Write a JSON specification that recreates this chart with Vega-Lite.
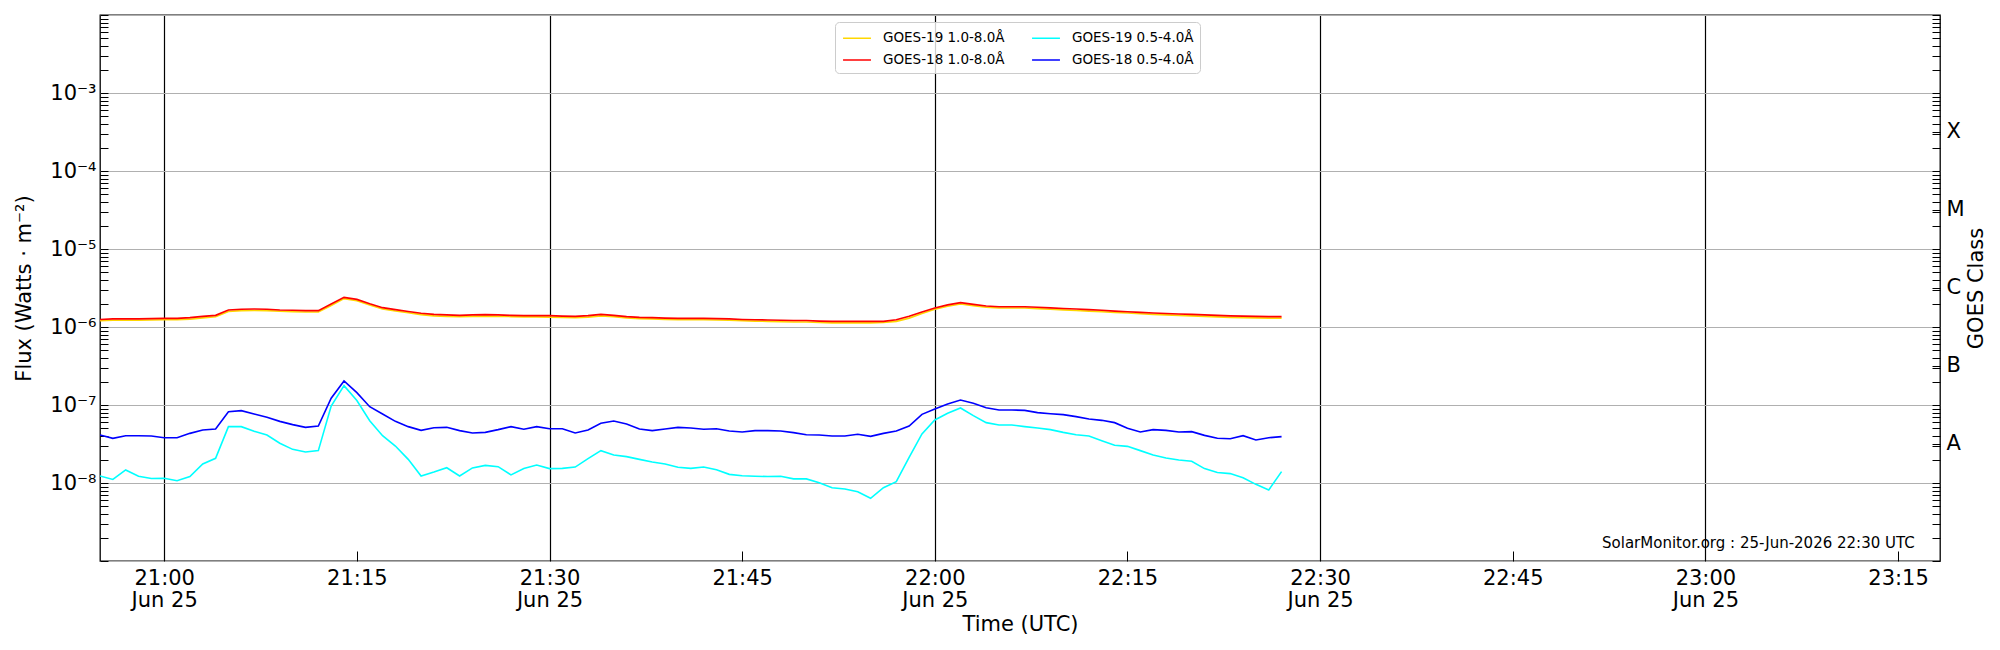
{
"$schema": "https://vega.github.io/schema/vega-lite/v6.json",
"width": 1840, "height": 546,
"autosize": {"type": "none"},
"padding": {"left": 100, "top": 15, "right": 60, "bottom": 89},
"background": "white",
"config": {
  "font": "DejaVu Sans",
  "view": {"stroke": "black", "strokeWidth": 1.3},
  "axis": {"labelFont": "DejaVu Sans", "titleFont": "DejaVu Sans", "labelColor": "black", "titleColor": "black", "titleFontWeight": "normal", "labelFontSize": 21, "titleFontSize": 21, "domain": false, "tickColor": "black", "tickWidth": 1}
},
"data": {"values": [
{"t":"2026-06-25T20:55:00Z","s":"GOES-19 1.0-8.0Å","f":1.20e-6},
{"t":"2026-06-25T20:56:00Z","s":"GOES-19 1.0-8.0Å","f":1.22e-6},
{"t":"2026-06-25T20:57:00Z","s":"GOES-19 1.0-8.0Å","f":1.22e-6},
{"t":"2026-06-25T20:58:00Z","s":"GOES-19 1.0-8.0Å","f":1.22e-6},
{"t":"2026-06-25T20:59:00Z","s":"GOES-19 1.0-8.0Å","f":1.23e-6},
{"t":"2026-06-25T21:00:00Z","s":"GOES-19 1.0-8.0Å","f":1.24e-6},
{"t":"2026-06-25T21:01:00Z","s":"GOES-19 1.0-8.0Å","f":1.24e-6},
{"t":"2026-06-25T21:02:00Z","s":"GOES-19 1.0-8.0Å","f":1.26e-6},
{"t":"2026-06-25T21:03:00Z","s":"GOES-19 1.0-8.0Å","f":1.31e-6},
{"t":"2026-06-25T21:04:00Z","s":"GOES-19 1.0-8.0Å","f":1.35e-6},
{"t":"2026-06-25T21:05:00Z","s":"GOES-19 1.0-8.0Å","f":1.58e-6},
{"t":"2026-06-25T21:06:00Z","s":"GOES-19 1.0-8.0Å","f":1.62e-6},
{"t":"2026-06-25T21:07:00Z","s":"GOES-19 1.0-8.0Å","f":1.63e-6},
{"t":"2026-06-25T21:08:00Z","s":"GOES-19 1.0-8.0Å","f":1.62e-6},
{"t":"2026-06-25T21:09:00Z","s":"GOES-19 1.0-8.0Å","f":1.59e-6},
{"t":"2026-06-25T21:10:00Z","s":"GOES-19 1.0-8.0Å","f":1.57e-6},
{"t":"2026-06-25T21:11:00Z","s":"GOES-19 1.0-8.0Å","f":1.56e-6},
{"t":"2026-06-25T21:12:00Z","s":"GOES-19 1.0-8.0Å","f":1.56e-6},
{"t":"2026-06-25T21:13:00Z","s":"GOES-19 1.0-8.0Å","f":1.89e-6},
{"t":"2026-06-25T21:14:00Z","s":"GOES-19 1.0-8.0Å","f":2.31e-6},
{"t":"2026-06-25T21:15:00Z","s":"GOES-19 1.0-8.0Å","f":2.17e-6},
{"t":"2026-06-25T21:16:00Z","s":"GOES-19 1.0-8.0Å","f":1.91e-6},
{"t":"2026-06-25T21:17:00Z","s":"GOES-19 1.0-8.0Å","f":1.70e-6},
{"t":"2026-06-25T21:18:00Z","s":"GOES-19 1.0-8.0Å","f":1.60e-6},
{"t":"2026-06-25T21:19:00Z","s":"GOES-19 1.0-8.0Å","f":1.52e-6},
{"t":"2026-06-25T21:20:00Z","s":"GOES-19 1.0-8.0Å","f":1.44e-6},
{"t":"2026-06-25T21:21:00Z","s":"GOES-19 1.0-8.0Å","f":1.39e-6},
{"t":"2026-06-25T21:22:00Z","s":"GOES-19 1.0-8.0Å","f":1.37e-6},
{"t":"2026-06-25T21:23:00Z","s":"GOES-19 1.0-8.0Å","f":1.36e-6},
{"t":"2026-06-25T21:24:00Z","s":"GOES-19 1.0-8.0Å","f":1.37e-6},
{"t":"2026-06-25T21:25:00Z","s":"GOES-19 1.0-8.0Å","f":1.38e-6},
{"t":"2026-06-25T21:26:00Z","s":"GOES-19 1.0-8.0Å","f":1.37e-6},
{"t":"2026-06-25T21:27:00Z","s":"GOES-19 1.0-8.0Å","f":1.36e-6},
{"t":"2026-06-25T21:28:00Z","s":"GOES-19 1.0-8.0Å","f":1.35e-6},
{"t":"2026-06-25T21:29:00Z","s":"GOES-19 1.0-8.0Å","f":1.35e-6},
{"t":"2026-06-25T21:30:00Z","s":"GOES-19 1.0-8.0Å","f":1.34e-6},
{"t":"2026-06-25T21:31:00Z","s":"GOES-19 1.0-8.0Å","f":1.33e-6},
{"t":"2026-06-25T21:32:00Z","s":"GOES-19 1.0-8.0Å","f":1.32e-6},
{"t":"2026-06-25T21:33:00Z","s":"GOES-19 1.0-8.0Å","f":1.34e-6},
{"t":"2026-06-25T21:34:00Z","s":"GOES-19 1.0-8.0Å","f":1.39e-6},
{"t":"2026-06-25T21:35:00Z","s":"GOES-19 1.0-8.0Å","f":1.36e-6},
{"t":"2026-06-25T21:36:00Z","s":"GOES-19 1.0-8.0Å","f":1.31e-6},
{"t":"2026-06-25T21:37:00Z","s":"GOES-19 1.0-8.0Å","f":1.28e-6},
{"t":"2026-06-25T21:38:00Z","s":"GOES-19 1.0-8.0Å","f":1.27e-6},
{"t":"2026-06-25T21:39:00Z","s":"GOES-19 1.0-8.0Å","f":1.25e-6},
{"t":"2026-06-25T21:40:00Z","s":"GOES-19 1.0-8.0Å","f":1.24e-6},
{"t":"2026-06-25T21:41:00Z","s":"GOES-19 1.0-8.0Å","f":1.24e-6},
{"t":"2026-06-25T21:42:00Z","s":"GOES-19 1.0-8.0Å","f":1.24e-6},
{"t":"2026-06-25T21:43:00Z","s":"GOES-19 1.0-8.0Å","f":1.23e-6},
{"t":"2026-06-25T21:44:00Z","s":"GOES-19 1.0-8.0Å","f":1.22e-6},
{"t":"2026-06-25T21:45:00Z","s":"GOES-19 1.0-8.0Å","f":1.20e-6},
{"t":"2026-06-25T21:46:00Z","s":"GOES-19 1.0-8.0Å","f":1.19e-6},
{"t":"2026-06-25T21:47:00Z","s":"GOES-19 1.0-8.0Å","f":1.18e-6},
{"t":"2026-06-25T21:48:00Z","s":"GOES-19 1.0-8.0Å","f":1.17e-6},
{"t":"2026-06-25T21:49:00Z","s":"GOES-19 1.0-8.0Å","f":1.16e-6},
{"t":"2026-06-25T21:50:00Z","s":"GOES-19 1.0-8.0Å","f":1.16e-6},
{"t":"2026-06-25T21:51:00Z","s":"GOES-19 1.0-8.0Å","f":1.14e-6},
{"t":"2026-06-25T21:52:00Z","s":"GOES-19 1.0-8.0Å","f":1.13e-6},
{"t":"2026-06-25T21:53:00Z","s":"GOES-19 1.0-8.0Å","f":1.13e-6},
{"t":"2026-06-25T21:54:00Z","s":"GOES-19 1.0-8.0Å","f":1.13e-6},
{"t":"2026-06-25T21:55:00Z","s":"GOES-19 1.0-8.0Å","f":1.13e-6},
{"t":"2026-06-25T21:56:00Z","s":"GOES-19 1.0-8.0Å","f":1.14e-6},
{"t":"2026-06-25T21:57:00Z","s":"GOES-19 1.0-8.0Å","f":1.18e-6},
{"t":"2026-06-25T21:58:00Z","s":"GOES-19 1.0-8.0Å","f":1.30e-6},
{"t":"2026-06-25T21:59:00Z","s":"GOES-19 1.0-8.0Å","f":1.49e-6},
{"t":"2026-06-25T22:00:00Z","s":"GOES-19 1.0-8.0Å","f":1.69e-6},
{"t":"2026-06-25T22:01:00Z","s":"GOES-19 1.0-8.0Å","f":1.85e-6},
{"t":"2026-06-25T22:02:00Z","s":"GOES-19 1.0-8.0Å","f":1.97e-6},
{"t":"2026-06-25T22:03:00Z","s":"GOES-19 1.0-8.0Å","f":1.88e-6},
{"t":"2026-06-25T22:04:00Z","s":"GOES-19 1.0-8.0Å","f":1.79e-6},
{"t":"2026-06-25T22:05:00Z","s":"GOES-19 1.0-8.0Å","f":1.75e-6},
{"t":"2026-06-25T22:06:00Z","s":"GOES-19 1.0-8.0Å","f":1.75e-6},
{"t":"2026-06-25T22:07:00Z","s":"GOES-19 1.0-8.0Å","f":1.75e-6},
{"t":"2026-06-25T22:08:00Z","s":"GOES-19 1.0-8.0Å","f":1.72e-6},
{"t":"2026-06-25T22:09:00Z","s":"GOES-19 1.0-8.0Å","f":1.69e-6},
{"t":"2026-06-25T22:10:00Z","s":"GOES-19 1.0-8.0Å","f":1.66e-6},
{"t":"2026-06-25T22:11:00Z","s":"GOES-19 1.0-8.0Å","f":1.63e-6},
{"t":"2026-06-25T22:12:00Z","s":"GOES-19 1.0-8.0Å","f":1.60e-6},
{"t":"2026-06-25T22:13:00Z","s":"GOES-19 1.0-8.0Å","f":1.57e-6},
{"t":"2026-06-25T22:14:00Z","s":"GOES-19 1.0-8.0Å","f":1.54e-6},
{"t":"2026-06-25T22:15:00Z","s":"GOES-19 1.0-8.0Å","f":1.51e-6},
{"t":"2026-06-25T22:16:00Z","s":"GOES-19 1.0-8.0Å","f":1.48e-6},
{"t":"2026-06-25T22:17:00Z","s":"GOES-19 1.0-8.0Å","f":1.45e-6},
{"t":"2026-06-25T22:18:00Z","s":"GOES-19 1.0-8.0Å","f":1.43e-6},
{"t":"2026-06-25T22:19:00Z","s":"GOES-19 1.0-8.0Å","f":1.41e-6},
{"t":"2026-06-25T22:20:00Z","s":"GOES-19 1.0-8.0Å","f":1.39e-6},
{"t":"2026-06-25T22:21:00Z","s":"GOES-19 1.0-8.0Å","f":1.37e-6},
{"t":"2026-06-25T22:22:00Z","s":"GOES-19 1.0-8.0Å","f":1.35e-6},
{"t":"2026-06-25T22:23:00Z","s":"GOES-19 1.0-8.0Å","f":1.33e-6},
{"t":"2026-06-25T22:24:00Z","s":"GOES-19 1.0-8.0Å","f":1.32e-6},
{"t":"2026-06-25T22:25:00Z","s":"GOES-19 1.0-8.0Å","f":1.31e-6},
{"t":"2026-06-25T22:26:00Z","s":"GOES-19 1.0-8.0Å","f":1.30e-6},
{"t":"2026-06-25T22:27:00Z","s":"GOES-19 1.0-8.0Å","f":1.30e-6},
{"t":"2026-06-25T20:55:00Z","s":"GOES-18 1.0-8.0Å","f":1.25e-6},
{"t":"2026-06-25T20:56:00Z","s":"GOES-18 1.0-8.0Å","f":1.27e-6},
{"t":"2026-06-25T20:57:00Z","s":"GOES-18 1.0-8.0Å","f":1.27e-6},
{"t":"2026-06-25T20:58:00Z","s":"GOES-18 1.0-8.0Å","f":1.27e-6},
{"t":"2026-06-25T20:59:00Z","s":"GOES-18 1.0-8.0Å","f":1.28e-6},
{"t":"2026-06-25T21:00:00Z","s":"GOES-18 1.0-8.0Å","f":1.29e-6},
{"t":"2026-06-25T21:01:00Z","s":"GOES-18 1.0-8.0Å","f":1.29e-6},
{"t":"2026-06-25T21:02:00Z","s":"GOES-18 1.0-8.0Å","f":1.32e-6},
{"t":"2026-06-25T21:03:00Z","s":"GOES-18 1.0-8.0Å","f":1.37e-6},
{"t":"2026-06-25T21:04:00Z","s":"GOES-18 1.0-8.0Å","f":1.41e-6},
{"t":"2026-06-25T21:05:00Z","s":"GOES-18 1.0-8.0Å","f":1.65e-6},
{"t":"2026-06-25T21:06:00Z","s":"GOES-18 1.0-8.0Å","f":1.69e-6},
{"t":"2026-06-25T21:07:00Z","s":"GOES-18 1.0-8.0Å","f":1.70e-6},
{"t":"2026-06-25T21:08:00Z","s":"GOES-18 1.0-8.0Å","f":1.69e-6},
{"t":"2026-06-25T21:09:00Z","s":"GOES-18 1.0-8.0Å","f":1.65e-6},
{"t":"2026-06-25T21:10:00Z","s":"GOES-18 1.0-8.0Å","f":1.64e-6},
{"t":"2026-06-25T21:11:00Z","s":"GOES-18 1.0-8.0Å","f":1.62e-6},
{"t":"2026-06-25T21:12:00Z","s":"GOES-18 1.0-8.0Å","f":1.62e-6},
{"t":"2026-06-25T21:13:00Z","s":"GOES-18 1.0-8.0Å","f":1.97e-6},
{"t":"2026-06-25T21:14:00Z","s":"GOES-18 1.0-8.0Å","f":2.40e-6},
{"t":"2026-06-25T21:15:00Z","s":"GOES-18 1.0-8.0Å","f":2.26e-6},
{"t":"2026-06-25T21:16:00Z","s":"GOES-18 1.0-8.0Å","f":1.99e-6},
{"t":"2026-06-25T21:17:00Z","s":"GOES-18 1.0-8.0Å","f":1.77e-6},
{"t":"2026-06-25T21:18:00Z","s":"GOES-18 1.0-8.0Å","f":1.67e-6},
{"t":"2026-06-25T21:19:00Z","s":"GOES-18 1.0-8.0Å","f":1.58e-6},
{"t":"2026-06-25T21:20:00Z","s":"GOES-18 1.0-8.0Å","f":1.50e-6},
{"t":"2026-06-25T21:21:00Z","s":"GOES-18 1.0-8.0Å","f":1.45e-6},
{"t":"2026-06-25T21:22:00Z","s":"GOES-18 1.0-8.0Å","f":1.43e-6},
{"t":"2026-06-25T21:23:00Z","s":"GOES-18 1.0-8.0Å","f":1.41e-6},
{"t":"2026-06-25T21:24:00Z","s":"GOES-18 1.0-8.0Å","f":1.43e-6},
{"t":"2026-06-25T21:25:00Z","s":"GOES-18 1.0-8.0Å","f":1.44e-6},
{"t":"2026-06-25T21:26:00Z","s":"GOES-18 1.0-8.0Å","f":1.43e-6},
{"t":"2026-06-25T21:27:00Z","s":"GOES-18 1.0-8.0Å","f":1.41e-6},
{"t":"2026-06-25T21:28:00Z","s":"GOES-18 1.0-8.0Å","f":1.40e-6},
{"t":"2026-06-25T21:29:00Z","s":"GOES-18 1.0-8.0Å","f":1.40e-6},
{"t":"2026-06-25T21:30:00Z","s":"GOES-18 1.0-8.0Å","f":1.40e-6},
{"t":"2026-06-25T21:31:00Z","s":"GOES-18 1.0-8.0Å","f":1.38e-6},
{"t":"2026-06-25T21:32:00Z","s":"GOES-18 1.0-8.0Å","f":1.37e-6},
{"t":"2026-06-25T21:33:00Z","s":"GOES-18 1.0-8.0Å","f":1.40e-6},
{"t":"2026-06-25T21:34:00Z","s":"GOES-18 1.0-8.0Å","f":1.45e-6},
{"t":"2026-06-25T21:35:00Z","s":"GOES-18 1.0-8.0Å","f":1.41e-6},
{"t":"2026-06-25T21:36:00Z","s":"GOES-18 1.0-8.0Å","f":1.36e-6},
{"t":"2026-06-25T21:37:00Z","s":"GOES-18 1.0-8.0Å","f":1.33e-6},
{"t":"2026-06-25T21:38:00Z","s":"GOES-18 1.0-8.0Å","f":1.32e-6},
{"t":"2026-06-25T21:39:00Z","s":"GOES-18 1.0-8.0Å","f":1.30e-6},
{"t":"2026-06-25T21:40:00Z","s":"GOES-18 1.0-8.0Å","f":1.29e-6},
{"t":"2026-06-25T21:41:00Z","s":"GOES-18 1.0-8.0Å","f":1.29e-6},
{"t":"2026-06-25T21:42:00Z","s":"GOES-18 1.0-8.0Å","f":1.29e-6},
{"t":"2026-06-25T21:43:00Z","s":"GOES-18 1.0-8.0Å","f":1.28e-6},
{"t":"2026-06-25T21:44:00Z","s":"GOES-18 1.0-8.0Å","f":1.27e-6},
{"t":"2026-06-25T21:45:00Z","s":"GOES-18 1.0-8.0Å","f":1.25e-6},
{"t":"2026-06-25T21:46:00Z","s":"GOES-18 1.0-8.0Å","f":1.24e-6},
{"t":"2026-06-25T21:47:00Z","s":"GOES-18 1.0-8.0Å","f":1.23e-6},
{"t":"2026-06-25T21:48:00Z","s":"GOES-18 1.0-8.0Å","f":1.22e-6},
{"t":"2026-06-25T21:49:00Z","s":"GOES-18 1.0-8.0Å","f":1.21e-6},
{"t":"2026-06-25T21:50:00Z","s":"GOES-18 1.0-8.0Å","f":1.21e-6},
{"t":"2026-06-25T21:51:00Z","s":"GOES-18 1.0-8.0Å","f":1.19e-6},
{"t":"2026-06-25T21:52:00Z","s":"GOES-18 1.0-8.0Å","f":1.18e-6},
{"t":"2026-06-25T21:53:00Z","s":"GOES-18 1.0-8.0Å","f":1.18e-6},
{"t":"2026-06-25T21:54:00Z","s":"GOES-18 1.0-8.0Å","f":1.18e-6},
{"t":"2026-06-25T21:55:00Z","s":"GOES-18 1.0-8.0Å","f":1.18e-6},
{"t":"2026-06-25T21:56:00Z","s":"GOES-18 1.0-8.0Å","f":1.18e-6},
{"t":"2026-06-25T21:57:00Z","s":"GOES-18 1.0-8.0Å","f":1.24e-6},
{"t":"2026-06-25T21:58:00Z","s":"GOES-18 1.0-8.0Å","f":1.37e-6},
{"t":"2026-06-25T21:59:00Z","s":"GOES-18 1.0-8.0Å","f":1.56e-6},
{"t":"2026-06-25T22:00:00Z","s":"GOES-18 1.0-8.0Å","f":1.75e-6},
{"t":"2026-06-25T22:01:00Z","s":"GOES-18 1.0-8.0Å","f":1.92e-6},
{"t":"2026-06-25T22:02:00Z","s":"GOES-18 1.0-8.0Å","f":2.05e-6},
{"t":"2026-06-25T22:03:00Z","s":"GOES-18 1.0-8.0Å","f":1.95e-6},
{"t":"2026-06-25T22:04:00Z","s":"GOES-18 1.0-8.0Å","f":1.86e-6},
{"t":"2026-06-25T22:05:00Z","s":"GOES-18 1.0-8.0Å","f":1.82e-6},
{"t":"2026-06-25T22:06:00Z","s":"GOES-18 1.0-8.0Å","f":1.82e-6},
{"t":"2026-06-25T22:07:00Z","s":"GOES-18 1.0-8.0Å","f":1.82e-6},
{"t":"2026-06-25T22:08:00Z","s":"GOES-18 1.0-8.0Å","f":1.79e-6},
{"t":"2026-06-25T22:09:00Z","s":"GOES-18 1.0-8.0Å","f":1.76e-6},
{"t":"2026-06-25T22:10:00Z","s":"GOES-18 1.0-8.0Å","f":1.73e-6},
{"t":"2026-06-25T22:11:00Z","s":"GOES-18 1.0-8.0Å","f":1.70e-6},
{"t":"2026-06-25T22:12:00Z","s":"GOES-18 1.0-8.0Å","f":1.67e-6},
{"t":"2026-06-25T22:13:00Z","s":"GOES-18 1.0-8.0Å","f":1.64e-6},
{"t":"2026-06-25T22:14:00Z","s":"GOES-18 1.0-8.0Å","f":1.60e-6},
{"t":"2026-06-25T22:15:00Z","s":"GOES-18 1.0-8.0Å","f":1.57e-6},
{"t":"2026-06-25T22:16:00Z","s":"GOES-18 1.0-8.0Å","f":1.54e-6},
{"t":"2026-06-25T22:17:00Z","s":"GOES-18 1.0-8.0Å","f":1.51e-6},
{"t":"2026-06-25T22:18:00Z","s":"GOES-18 1.0-8.0Å","f":1.49e-6},
{"t":"2026-06-25T22:19:00Z","s":"GOES-18 1.0-8.0Å","f":1.47e-6},
{"t":"2026-06-25T22:20:00Z","s":"GOES-18 1.0-8.0Å","f":1.45e-6},
{"t":"2026-06-25T22:21:00Z","s":"GOES-18 1.0-8.0Å","f":1.43e-6},
{"t":"2026-06-25T22:22:00Z","s":"GOES-18 1.0-8.0Å","f":1.41e-6},
{"t":"2026-06-25T22:23:00Z","s":"GOES-18 1.0-8.0Å","f":1.39e-6},
{"t":"2026-06-25T22:24:00Z","s":"GOES-18 1.0-8.0Å","f":1.38e-6},
{"t":"2026-06-25T22:25:00Z","s":"GOES-18 1.0-8.0Å","f":1.37e-6},
{"t":"2026-06-25T22:26:00Z","s":"GOES-18 1.0-8.0Å","f":1.36e-6},
{"t":"2026-06-25T22:27:00Z","s":"GOES-18 1.0-8.0Å","f":1.36e-6},
{"t":"2026-06-25T20:55:00Z","s":"GOES-19 0.5-4.0Å","f":1.23e-8},
{"t":"2026-06-25T20:56:00Z","s":"GOES-19 0.5-4.0Å","f":1.11e-8},
{"t":"2026-06-25T20:57:00Z","s":"GOES-19 0.5-4.0Å","f":1.47e-8},
{"t":"2026-06-25T20:58:00Z","s":"GOES-19 0.5-4.0Å","f":1.22e-8},
{"t":"2026-06-25T20:59:00Z","s":"GOES-19 0.5-4.0Å","f":1.14e-8},
{"t":"2026-06-25T21:00:00Z","s":"GOES-19 0.5-4.0Å","f":1.15e-8},
{"t":"2026-06-25T21:01:00Z","s":"GOES-19 0.5-4.0Å","f":1.07e-8},
{"t":"2026-06-25T21:02:00Z","s":"GOES-19 0.5-4.0Å","f":1.21e-8},
{"t":"2026-06-25T21:03:00Z","s":"GOES-19 0.5-4.0Å","f":1.75e-8},
{"t":"2026-06-25T21:04:00Z","s":"GOES-19 0.5-4.0Å","f":2.07e-8},
{"t":"2026-06-25T21:05:00Z","s":"GOES-19 0.5-4.0Å","f":5.28e-8},
{"t":"2026-06-25T21:06:00Z","s":"GOES-19 0.5-4.0Å","f":5.28e-8},
{"t":"2026-06-25T21:07:00Z","s":"GOES-19 0.5-4.0Å","f":4.60e-8},
{"t":"2026-06-25T21:08:00Z","s":"GOES-19 0.5-4.0Å","f":4.12e-8},
{"t":"2026-06-25T21:09:00Z","s":"GOES-19 0.5-4.0Å","f":3.23e-8},
{"t":"2026-06-25T21:10:00Z","s":"GOES-19 0.5-4.0Å","f":2.70e-8},
{"t":"2026-06-25T21:11:00Z","s":"GOES-19 0.5-4.0Å","f":2.50e-8},
{"t":"2026-06-25T21:12:00Z","s":"GOES-19 0.5-4.0Å","f":2.60e-8},
{"t":"2026-06-25T21:13:00Z","s":"GOES-19 0.5-4.0Å","f":9.71e-8},
{"t":"2026-06-25T21:14:00Z","s":"GOES-19 0.5-4.0Å","f":1.77e-7},
{"t":"2026-06-25T21:15:00Z","s":"GOES-19 0.5-4.0Å","f":1.14e-7},
{"t":"2026-06-25T21:16:00Z","s":"GOES-19 0.5-4.0Å","f":6.30e-8},
{"t":"2026-06-25T21:17:00Z","s":"GOES-19 0.5-4.0Å","f":4.04e-8},
{"t":"2026-06-25T21:18:00Z","s":"GOES-19 0.5-4.0Å","f":2.98e-8},
{"t":"2026-06-25T21:19:00Z","s":"GOES-19 0.5-4.0Å","f":2.01e-8},
{"t":"2026-06-25T21:20:00Z","s":"GOES-19 0.5-4.0Å","f":1.23e-8},
{"t":"2026-06-25T21:21:00Z","s":"GOES-19 0.5-4.0Å","f":1.38e-8},
{"t":"2026-06-25T21:22:00Z","s":"GOES-19 0.5-4.0Å","f":1.57e-8},
{"t":"2026-06-25T21:23:00Z","s":"GOES-19 0.5-4.0Å","f":1.23e-8},
{"t":"2026-06-25T21:24:00Z","s":"GOES-19 0.5-4.0Å","f":1.56e-8},
{"t":"2026-06-25T21:25:00Z","s":"GOES-19 0.5-4.0Å","f":1.68e-8},
{"t":"2026-06-25T21:26:00Z","s":"GOES-19 0.5-4.0Å","f":1.62e-8},
{"t":"2026-06-25T21:27:00Z","s":"GOES-19 0.5-4.0Å","f":1.27e-8},
{"t":"2026-06-25T21:28:00Z","s":"GOES-19 0.5-4.0Å","f":1.53e-8},
{"t":"2026-06-25T21:29:00Z","s":"GOES-19 0.5-4.0Å","f":1.70e-8},
{"t":"2026-06-25T21:30:00Z","s":"GOES-19 0.5-4.0Å","f":1.53e-8},
{"t":"2026-06-25T21:31:00Z","s":"GOES-19 0.5-4.0Å","f":1.54e-8},
{"t":"2026-06-25T21:32:00Z","s":"GOES-19 0.5-4.0Å","f":1.60e-8},
{"t":"2026-06-25T21:33:00Z","s":"GOES-19 0.5-4.0Å","f":2.05e-8},
{"t":"2026-06-25T21:34:00Z","s":"GOES-19 0.5-4.0Å","f":2.60e-8},
{"t":"2026-06-25T21:35:00Z","s":"GOES-19 0.5-4.0Å","f":2.29e-8},
{"t":"2026-06-25T21:36:00Z","s":"GOES-19 0.5-4.0Å","f":2.18e-8},
{"t":"2026-06-25T21:37:00Z","s":"GOES-19 0.5-4.0Å","f":2.01e-8},
{"t":"2026-06-25T21:38:00Z","s":"GOES-19 0.5-4.0Å","f":1.86e-8},
{"t":"2026-06-25T21:39:00Z","s":"GOES-19 0.5-4.0Å","f":1.75e-8},
{"t":"2026-06-25T21:40:00Z","s":"GOES-19 0.5-4.0Å","f":1.59e-8},
{"t":"2026-06-25T21:41:00Z","s":"GOES-19 0.5-4.0Å","f":1.54e-8},
{"t":"2026-06-25T21:42:00Z","s":"GOES-19 0.5-4.0Å","f":1.60e-8},
{"t":"2026-06-25T21:43:00Z","s":"GOES-19 0.5-4.0Å","f":1.48e-8},
{"t":"2026-06-25T21:44:00Z","s":"GOES-19 0.5-4.0Å","f":1.29e-8},
{"t":"2026-06-25T21:45:00Z","s":"GOES-19 0.5-4.0Å","f":1.24e-8},
{"t":"2026-06-25T21:46:00Z","s":"GOES-19 0.5-4.0Å","f":1.22e-8},
{"t":"2026-06-25T21:47:00Z","s":"GOES-19 0.5-4.0Å","f":1.21e-8},
{"t":"2026-06-25T21:48:00Z","s":"GOES-19 0.5-4.0Å","f":1.22e-8},
{"t":"2026-06-25T21:49:00Z","s":"GOES-19 0.5-4.0Å","f":1.13e-8},
{"t":"2026-06-25T21:50:00Z","s":"GOES-19 0.5-4.0Å","f":1.13e-8},
{"t":"2026-06-25T21:51:00Z","s":"GOES-19 0.5-4.0Å","f":1.01e-8},
{"t":"2026-06-25T21:52:00Z","s":"GOES-19 0.5-4.0Å","f":8.71e-9},
{"t":"2026-06-25T21:53:00Z","s":"GOES-19 0.5-4.0Å","f":8.38e-9},
{"t":"2026-06-25T21:54:00Z","s":"GOES-19 0.5-4.0Å","f":7.74e-9},
{"t":"2026-06-25T21:55:00Z","s":"GOES-19 0.5-4.0Å","f":6.36e-9},
{"t":"2026-06-25T21:56:00Z","s":"GOES-19 0.5-4.0Å","f":8.71e-9},
{"t":"2026-06-25T21:57:00Z","s":"GOES-19 0.5-4.0Å","f":1.04e-8},
{"t":"2026-06-25T21:58:00Z","s":"GOES-19 0.5-4.0Å","f":2.13e-8},
{"t":"2026-06-25T21:59:00Z","s":"GOES-19 0.5-4.0Å","f":4.25e-8},
{"t":"2026-06-25T22:00:00Z","s":"GOES-19 0.5-4.0Å","f":6.42e-8},
{"t":"2026-06-25T22:01:00Z","s":"GOES-19 0.5-4.0Å","f":7.82e-8},
{"t":"2026-06-25T22:02:00Z","s":"GOES-19 0.5-4.0Å","f":9.15e-8},
{"t":"2026-06-25T22:03:00Z","s":"GOES-19 0.5-4.0Å","f":7.30e-8},
{"t":"2026-06-25T22:04:00Z","s":"GOES-19 0.5-4.0Å","f":5.94e-8},
{"t":"2026-06-25T22:05:00Z","s":"GOES-19 0.5-4.0Å","f":5.54e-8},
{"t":"2026-06-25T22:06:00Z","s":"GOES-19 0.5-4.0Å","f":5.54e-8},
{"t":"2026-06-25T22:07:00Z","s":"GOES-19 0.5-4.0Å","f":5.28e-8},
{"t":"2026-06-25T22:08:00Z","s":"GOES-19 0.5-4.0Å","f":5.07e-8},
{"t":"2026-06-25T22:09:00Z","s":"GOES-19 0.5-4.0Å","f":4.83e-8},
{"t":"2026-06-25T22:10:00Z","s":"GOES-19 0.5-4.0Å","f":4.46e-8},
{"t":"2026-06-25T22:11:00Z","s":"GOES-19 0.5-4.0Å","f":4.16e-8},
{"t":"2026-06-25T22:12:00Z","s":"GOES-19 0.5-4.0Å","f":4.00e-8},
{"t":"2026-06-25T22:13:00Z","s":"GOES-19 0.5-4.0Å","f":3.49e-8},
{"t":"2026-06-25T22:14:00Z","s":"GOES-19 0.5-4.0Å","f":3.04e-8},
{"t":"2026-06-25T22:15:00Z","s":"GOES-19 0.5-4.0Å","f":2.95e-8},
{"t":"2026-06-25T22:16:00Z","s":"GOES-19 0.5-4.0Å","f":2.60e-8},
{"t":"2026-06-25T22:17:00Z","s":"GOES-19 0.5-4.0Å","f":2.29e-8},
{"t":"2026-06-25T22:18:00Z","s":"GOES-19 0.5-4.0Å","f":2.09e-8},
{"t":"2026-06-25T22:19:00Z","s":"GOES-19 0.5-4.0Å","f":1.97e-8},
{"t":"2026-06-25T22:20:00Z","s":"GOES-19 0.5-4.0Å","f":1.90e-8},
{"t":"2026-06-25T22:21:00Z","s":"GOES-19 0.5-4.0Å","f":1.53e-8},
{"t":"2026-06-25T22:22:00Z","s":"GOES-19 0.5-4.0Å","f":1.36e-8},
{"t":"2026-06-25T22:23:00Z","s":"GOES-19 0.5-4.0Å","f":1.32e-8},
{"t":"2026-06-25T22:24:00Z","s":"GOES-19 0.5-4.0Å","f":1.17e-8},
{"t":"2026-06-25T22:25:00Z","s":"GOES-19 0.5-4.0Å","f":9.61e-9},
{"t":"2026-06-25T22:26:00Z","s":"GOES-19 0.5-4.0Å","f":8.13e-9},
{"t":"2026-06-25T22:27:00Z","s":"GOES-19 0.5-4.0Å","f":1.40e-8},
{"t":"2026-06-25T20:55:00Z","s":"GOES-18 0.5-4.0Å","f":4.12e-8},
{"t":"2026-06-25T20:56:00Z","s":"GOES-18 0.5-4.0Å","f":3.74e-8},
{"t":"2026-06-25T20:57:00Z","s":"GOES-18 0.5-4.0Å","f":4.04e-8},
{"t":"2026-06-25T20:58:00Z","s":"GOES-18 0.5-4.0Å","f":4.04e-8},
{"t":"2026-06-25T20:59:00Z","s":"GOES-18 0.5-4.0Å","f":4.00e-8},
{"t":"2026-06-25T21:00:00Z","s":"GOES-18 0.5-4.0Å","f":3.81e-8},
{"t":"2026-06-25T21:01:00Z","s":"GOES-18 0.5-4.0Å","f":3.81e-8},
{"t":"2026-06-25T21:02:00Z","s":"GOES-18 0.5-4.0Å","f":4.33e-8},
{"t":"2026-06-25T21:03:00Z","s":"GOES-18 0.5-4.0Å","f":4.78e-8},
{"t":"2026-06-25T21:04:00Z","s":"GOES-18 0.5-4.0Å","f":4.92e-8},
{"t":"2026-06-25T21:05:00Z","s":"GOES-18 0.5-4.0Å","f":8.21e-8},
{"t":"2026-06-25T21:06:00Z","s":"GOES-18 0.5-4.0Å","f":8.46e-8},
{"t":"2026-06-25T21:07:00Z","s":"GOES-18 0.5-4.0Å","f":7.67e-8},
{"t":"2026-06-25T21:08:00Z","s":"GOES-18 0.5-4.0Å","f":6.95e-8},
{"t":"2026-06-25T21:09:00Z","s":"GOES-18 0.5-4.0Å","f":6.17e-8},
{"t":"2026-06-25T21:10:00Z","s":"GOES-18 0.5-4.0Å","f":5.60e-8},
{"t":"2026-06-25T21:11:00Z","s":"GOES-18 0.5-4.0Å","f":5.17e-8},
{"t":"2026-06-25T21:12:00Z","s":"GOES-18 0.5-4.0Å","f":5.38e-8},
{"t":"2026-06-25T21:13:00Z","s":"GOES-18 0.5-4.0Å","f":1.22e-7},
{"t":"2026-06-25T21:14:00Z","s":"GOES-18 0.5-4.0Å","f":2.03e-7},
{"t":"2026-06-25T21:15:00Z","s":"GOES-18 0.5-4.0Å","f":1.44e-7},
{"t":"2026-06-25T21:16:00Z","s":"GOES-18 0.5-4.0Å","f":9.52e-8},
{"t":"2026-06-25T21:17:00Z","s":"GOES-18 0.5-4.0Å","f":7.67e-8},
{"t":"2026-06-25T21:18:00Z","s":"GOES-18 0.5-4.0Å","f":6.17e-8},
{"t":"2026-06-25T21:19:00Z","s":"GOES-18 0.5-4.0Å","f":5.28e-8},
{"t":"2026-06-25T21:20:00Z","s":"GOES-18 0.5-4.0Å","f":4.73e-8},
{"t":"2026-06-25T21:21:00Z","s":"GOES-18 0.5-4.0Å","f":5.12e-8},
{"t":"2026-06-25T21:22:00Z","s":"GOES-18 0.5-4.0Å","f":5.17e-8},
{"t":"2026-06-25T21:23:00Z","s":"GOES-18 0.5-4.0Å","f":4.69e-8},
{"t":"2026-06-25T21:24:00Z","s":"GOES-18 0.5-4.0Å","f":4.38e-8},
{"t":"2026-06-25T21:25:00Z","s":"GOES-18 0.5-4.0Å","f":4.46e-8},
{"t":"2026-06-25T21:26:00Z","s":"GOES-18 0.5-4.0Å","f":4.83e-8},
{"t":"2026-06-25T21:27:00Z","s":"GOES-18 0.5-4.0Å","f":5.28e-8},
{"t":"2026-06-25T21:28:00Z","s":"GOES-18 0.5-4.0Å","f":4.88e-8},
{"t":"2026-06-25T21:29:00Z","s":"GOES-18 0.5-4.0Å","f":5.28e-8},
{"t":"2026-06-25T21:30:00Z","s":"GOES-18 0.5-4.0Å","f":4.97e-8},
{"t":"2026-06-25T21:31:00Z","s":"GOES-18 0.5-4.0Å","f":4.97e-8},
{"t":"2026-06-25T21:32:00Z","s":"GOES-18 0.5-4.0Å","f":4.38e-8},
{"t":"2026-06-25T21:33:00Z","s":"GOES-18 0.5-4.0Å","f":4.78e-8},
{"t":"2026-06-25T21:34:00Z","s":"GOES-18 0.5-4.0Å","f":5.82e-8},
{"t":"2026-06-25T21:35:00Z","s":"GOES-18 0.5-4.0Å","f":6.23e-8},
{"t":"2026-06-25T21:36:00Z","s":"GOES-18 0.5-4.0Å","f":5.71e-8},
{"t":"2026-06-25T21:37:00Z","s":"GOES-18 0.5-4.0Å","f":4.92e-8},
{"t":"2026-06-25T21:38:00Z","s":"GOES-18 0.5-4.0Å","f":4.69e-8},
{"t":"2026-06-25T21:39:00Z","s":"GOES-18 0.5-4.0Å","f":4.92e-8},
{"t":"2026-06-25T21:40:00Z","s":"GOES-18 0.5-4.0Å","f":5.17e-8},
{"t":"2026-06-25T21:41:00Z","s":"GOES-18 0.5-4.0Å","f":5.07e-8},
{"t":"2026-06-25T21:42:00Z","s":"GOES-18 0.5-4.0Å","f":4.88e-8},
{"t":"2026-06-25T21:43:00Z","s":"GOES-18 0.5-4.0Å","f":4.97e-8},
{"t":"2026-06-25T21:44:00Z","s":"GOES-18 0.5-4.0Å","f":4.64e-8},
{"t":"2026-06-25T21:45:00Z","s":"GOES-18 0.5-4.0Å","f":4.51e-8},
{"t":"2026-06-25T21:46:00Z","s":"GOES-18 0.5-4.0Å","f":4.69e-8},
{"t":"2026-06-25T21:47:00Z","s":"GOES-18 0.5-4.0Å","f":4.69e-8},
{"t":"2026-06-25T21:48:00Z","s":"GOES-18 0.5-4.0Å","f":4.64e-8},
{"t":"2026-06-25T21:49:00Z","s":"GOES-18 0.5-4.0Å","f":4.42e-8},
{"t":"2026-06-25T21:50:00Z","s":"GOES-18 0.5-4.0Å","f":4.16e-8},
{"t":"2026-06-25T21:51:00Z","s":"GOES-18 0.5-4.0Å","f":4.12e-8},
{"t":"2026-06-25T21:52:00Z","s":"GOES-18 0.5-4.0Å","f":4.00e-8},
{"t":"2026-06-25T21:53:00Z","s":"GOES-18 0.5-4.0Å","f":4.00e-8},
{"t":"2026-06-25T21:54:00Z","s":"GOES-18 0.5-4.0Å","f":4.21e-8},
{"t":"2026-06-25T21:55:00Z","s":"GOES-18 0.5-4.0Å","f":3.96e-8},
{"t":"2026-06-25T21:56:00Z","s":"GOES-18 0.5-4.0Å","f":4.33e-8},
{"t":"2026-06-25T21:57:00Z","s":"GOES-18 0.5-4.0Å","f":4.64e-8},
{"t":"2026-06-25T21:58:00Z","s":"GOES-18 0.5-4.0Å","f":5.38e-8},
{"t":"2026-06-25T21:59:00Z","s":"GOES-18 0.5-4.0Å","f":7.59e-8},
{"t":"2026-06-25T22:00:00Z","s":"GOES-18 0.5-4.0Å","f":8.89e-8},
{"t":"2026-06-25T22:01:00Z","s":"GOES-18 0.5-4.0Å","f":1.03e-7},
{"t":"2026-06-25T22:02:00Z","s":"GOES-18 0.5-4.0Å","f":1.16e-7},
{"t":"2026-06-25T22:03:00Z","s":"GOES-18 0.5-4.0Å","f":1.05e-7},
{"t":"2026-06-25T22:04:00Z","s":"GOES-18 0.5-4.0Å","f":9.24e-8},
{"t":"2026-06-25T22:05:00Z","s":"GOES-18 0.5-4.0Å","f":8.63e-8},
{"t":"2026-06-25T22:06:00Z","s":"GOES-18 0.5-4.0Å","f":8.63e-8},
{"t":"2026-06-25T22:07:00Z","s":"GOES-18 0.5-4.0Å","f":8.54e-8},
{"t":"2026-06-25T22:08:00Z","s":"GOES-18 0.5-4.0Å","f":7.98e-8},
{"t":"2026-06-25T22:09:00Z","s":"GOES-18 0.5-4.0Å","f":7.74e-8},
{"t":"2026-06-25T22:10:00Z","s":"GOES-18 0.5-4.0Å","f":7.52e-8},
{"t":"2026-06-25T22:11:00Z","s":"GOES-18 0.5-4.0Å","f":7.09e-8},
{"t":"2026-06-25T22:12:00Z","s":"GOES-18 0.5-4.0Å","f":6.61e-8},
{"t":"2026-06-25T22:13:00Z","s":"GOES-18 0.5-4.0Å","f":6.36e-8},
{"t":"2026-06-25T22:14:00Z","s":"GOES-18 0.5-4.0Å","f":5.94e-8},
{"t":"2026-06-25T22:15:00Z","s":"GOES-18 0.5-4.0Å","f":5.02e-8},
{"t":"2026-06-25T22:16:00Z","s":"GOES-18 0.5-4.0Å","f":4.51e-8},
{"t":"2026-06-25T22:17:00Z","s":"GOES-18 0.5-4.0Å","f":4.83e-8},
{"t":"2026-06-25T22:18:00Z","s":"GOES-18 0.5-4.0Å","f":4.73e-8},
{"t":"2026-06-25T22:19:00Z","s":"GOES-18 0.5-4.0Å","f":4.51e-8},
{"t":"2026-06-25T22:20:00Z","s":"GOES-18 0.5-4.0Å","f":4.55e-8},
{"t":"2026-06-25T22:21:00Z","s":"GOES-18 0.5-4.0Å","f":4.08e-8},
{"t":"2026-06-25T22:22:00Z","s":"GOES-18 0.5-4.0Å","f":3.74e-8},
{"t":"2026-06-25T22:23:00Z","s":"GOES-18 0.5-4.0Å","f":3.70e-8},
{"t":"2026-06-25T22:24:00Z","s":"GOES-18 0.5-4.0Å","f":4.04e-8},
{"t":"2026-06-25T22:25:00Z","s":"GOES-18 0.5-4.0Å","f":3.56e-8},
{"t":"2026-06-25T22:26:00Z","s":"GOES-18 0.5-4.0Å","f":3.81e-8},
{"t":"2026-06-25T22:27:00Z","s":"GOES-18 0.5-4.0Å","f":3.93e-8}
]},
"layer": [
{
  "mark": {"type": "line", "strokeWidth": 1.6, "clip": true},
  "encoding": {
    "x": {"field": "t", "type": "temporal",
      "scale": {"type": "utc", "domain": [{"year": 2026, "month": 6, "date": 25, "hours": 20, "minutes": 55, "utc": true}, {"year": 2026, "month": 6, "date": 25, "hours": 23, "minutes": 18, "seconds": 16, "utc": true}]},
      "axis": {
        "title": "Time (UTC)", "titleY": 63, "titleBaseline": "middle",
        "values": [
          {"year": 2026, "month": 6, "date": 25, "hours": 21, "minutes": 0, "utc": true},
          {"year": 2026, "month": 6, "date": 25, "hours": 21, "minutes": 15, "utc": true},
          {"year": 2026, "month": 6, "date": 25, "hours": 21, "minutes": 30, "utc": true},
          {"year": 2026, "month": 6, "date": 25, "hours": 21, "minutes": 45, "utc": true},
          {"year": 2026, "month": 6, "date": 25, "hours": 22, "minutes": 0, "utc": true},
          {"year": 2026, "month": 6, "date": 25, "hours": 22, "minutes": 15, "utc": true},
          {"year": 2026, "month": 6, "date": 25, "hours": 22, "minutes": 30, "utc": true},
          {"year": 2026, "month": 6, "date": 25, "hours": 22, "minutes": 45, "utc": true},
          {"year": 2026, "month": 6, "date": 25, "hours": 23, "minutes": 0, "utc": true},
          {"year": 2026, "month": 6, "date": 25, "hours": 23, "minutes": 15, "utc": true}
        ],
        "labelExpr": "utcminutes(datum.value) % 30 == 0 ? [utcFormat(datum.value, '%H:%M'), utcFormat(datum.value, '%b %d')] : utcFormat(datum.value, '%H:%M')",
        "labelLineHeight": 22, "labelBaseline": "top", "labelPadding": 16,
        "labelOverlap": false, "labelFlush": false,
        "tickSize": -10,
        "grid": true, "gridColor": "black", "gridWidth": 1.2,
        "gridOpacity": {"condition": {"test": "utcminutes(datum.value) % 30 == 0", "value": 1}, "value": 0}
      }
    },
    "y": {"field": "f", "type": "quantitative",
      "scale": {"type": "log", "domain": [1e-9, 1e-2], "nice": false},
      "axis": {
        "orient": "left",
        "title": "Flux (Watts · m⁻²)", "titleX": -76, "titleY": 273, "titleAngle": 270, "titleBaseline": "middle", "titleAlign": "center",
        "values": [1e-9,2e-9,3e-9,4e-9,5e-9,6e-9,7e-9,8e-9,9e-9,1e-8,2e-8,3e-8,4e-8,5e-8,6e-8,7e-8,8e-8,9e-8,1e-7,2e-7,3e-7,4e-7,5e-7,6e-7,7e-7,8e-7,9e-7,1e-6,2e-6,3e-6,4e-6,5e-6,6e-6,7e-6,8e-6,9e-6,1e-5,2e-5,3e-5,4e-5,5e-5,6e-5,7e-5,8e-5,9e-5,1e-4,2e-4,3e-4,4e-4,5e-4,6e-4,7e-4,8e-4,9e-4,1e-3,2e-3,3e-3,4e-3,5e-3,6e-3,7e-3,8e-3,9e-3,1e-2],
        "labelExpr": "datum.value > 5e-9 && datum.value < 2e-3 && abs(log(datum.value)/LN10 - round(log(datum.value)/LN10)) < 0.001 ? '10⁻' + ['⁰','¹','²','³','⁴','⁵','⁶','⁷','⁸','⁹'][-round(log(datum.value)/LN10)] : ''",
        "labelOverlap": false, "labelFlush": false, "labelBound": false, "labelPadding": 12,
        "tickSize": -8,
        "grid": true, "gridColor": "#b0b0b0", "gridWidth": 1,
        "gridOpacity": {"condition": {"test": "abs(log(datum.value)/LN10 - round(log(datum.value)/LN10)) < 0.001", "value": 1}, "value": 0}
      }
    },
    "color": {"field": "s", "type": "nominal",
      "scale": {"domain": ["GOES-19 1.0-8.0Å", "GOES-19 0.5-4.0Å", "GOES-18 1.0-8.0Å", "GOES-18 0.5-4.0Å"], "range": ["#FFD700", "#00FFFF", "#FF0000", "#0000FF"]},
      "legend": {
        "title": null, "orient": "none", "legendX": 735, "legendY": 7, "direction": "horizontal", "columns": 2,
        "symbolType": "M-1.55,0H1.55", "symbolSize": 324, "symbolStrokeWidth": 1.5, "symbolOffset": 6,
        "labelFont": "DejaVu Sans", "labelFontSize": 13.5, "labelColor": "black", "labelOffset": 16,
        "padding": 6, "rowPadding": 5, "columnPadding": 24,
        "strokeColor": "#cccccc", "fillColor": "rgba(255,255,255,0.8)", "cornerRadius": 4
      }
    }
  }
},
{
  "data": {"values": [{"t": "2026-06-25T23:16:18Z", "f": 1.72e-9, "txt": "SolarMonitor.org : 25-Jun-2026 22:30 UTC"}]},
  "mark": {"type": "text", "align": "right", "baseline": "middle", "fontSize": 15, "font": "DejaVu Sans", "color": "black"},
  "encoding": {
    "x": {"field": "t", "type": "temporal"},
    "y": {"field": "f", "type": "quantitative",
      "scale": {"type": "log", "domain": [1e-9, 1e-2], "nice": false},
      "axis": {
        "orient": "right",
        "title": "GOES Class", "titleX": 36, "titleY": 273, "titleAngle": 270, "titleBaseline": "middle", "titleAlign": "center",
        "values": [1e-9,2e-9,3e-9,4e-9,5e-9,6e-9,7e-9,8e-9,9e-9,1e-8,2e-8,3e-8,3.1623e-8,4e-8,5e-8,6e-8,7e-8,8e-8,9e-8,1e-7,2e-7,3e-7,3.1623e-7,4e-7,5e-7,6e-7,7e-7,8e-7,9e-7,1e-6,2e-6,3e-6,3.1623e-6,4e-6,5e-6,6e-6,7e-6,8e-6,9e-6,1e-5,2e-5,3e-5,3.1623e-5,4e-5,5e-5,6e-5,7e-5,8e-5,9e-5,1e-4,2e-4,3e-4,3.1623e-4,4e-4,5e-4,6e-4,7e-4,8e-4,9e-4,1e-3,2e-3,3e-3,4e-3,5e-3,6e-3,7e-3,8e-3,9e-3,1e-2],
        "labelExpr": "abs(log(datum.value)/LN10 - floor(log(datum.value)/LN10) - 0.5) < 0.01 ? ['A','B','C','M','X'][round(log(datum.value)/LN10 + 7.5)] : ''",
        "labelOverlap": false, "labelFlush": false, "labelBound": false, "labelPadding": 14, "labelAlign": "left",
        "tickSize": -8, "grid": false
      }
    },
    "text": {"field": "txt"}
  }
}
],
"resolve": {"axis": {"y": "independent"}}
}
